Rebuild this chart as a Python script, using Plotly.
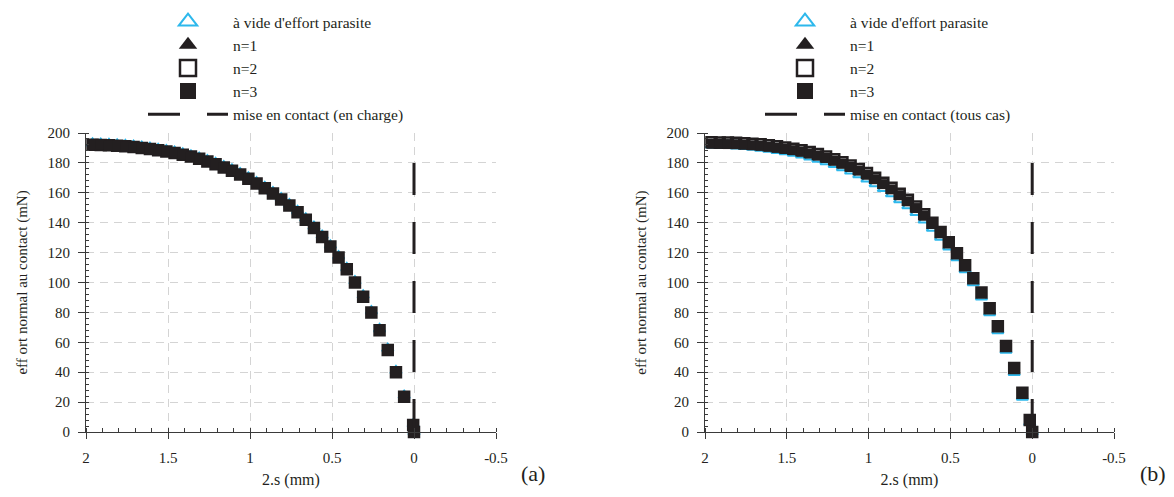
import plotly.graph_objects as go

# ---------------- data ----------------
X_A = [2.01, 1.96, 1.91, 1.86, 1.81, 1.76, 1.71, 1.66, 1.61, 1.56,
       1.51, 1.46, 1.41, 1.36, 1.31, 1.26, 1.21, 1.16, 1.11, 1.06,
       1.01, 0.96, 0.91, 0.86, 0.81, 0.76, 0.71, 0.66, 0.61, 0.56,
       0.51, 0.46, 0.41, 0.36, 0.31, 0.26, 0.21, 0.16, 0.11, 0.06,
       0.005, 0.0]
X_B = [2.01, 1.96, 1.91, 1.86, 1.81, 1.76, 1.71, 1.66, 1.61, 1.56,
       1.51, 1.46, 1.41, 1.36, 1.31, 1.26, 1.21, 1.16, 1.11, 1.06,
       1.01, 0.96, 0.91, 0.86, 0.81, 0.76, 0.71, 0.66, 0.61, 0.56,
       0.51, 0.46, 0.41, 0.36, 0.31, 0.26, 0.21, 0.16, 0.11, 0.06,
       0.015, 0.0]

# panel (a)
VIDE_A = [193.2, 193.1, 192.9, 192.7, 192.4, 192.0, 191.5, 190.9, 190.2, 189.4,
          188.5, 187.5, 186.4, 185.1, 183.6, 181.9, 180.0, 177.9, 175.6, 173.1,
          170.3, 167.2, 163.9, 160.4, 156.5, 152.4, 147.9, 142.9, 137.4, 131.4,
          124.9, 117.7, 109.7, 100.9, 91.4, 80.9, 68.9, 55.7, 40.9, 24.4,
          5.2, 0.0]
N1_A = [192.3, 192.2, 192.0, 191.8, 191.5, 191.1, 190.6, 190.0, 189.3, 188.5,
        187.6, 186.6, 185.5, 184.2, 182.7, 181.0, 179.1, 177.0, 174.7, 172.2,
        169.4, 166.3, 163.0, 159.5, 155.6, 151.5, 147.0, 142.0, 136.5, 130.5,
        124.0, 116.8, 108.8, 100.0, 90.5, 80.0, 68.0, 54.8, 40.0, 23.5,
        4.7, 0.0]
N2_A = [192.3, 192.2, 192.0, 191.8, 191.5, 191.1, 190.6, 190.0, 189.3, 188.5,
        187.6, 186.6, 185.5, 184.2, 182.7, 181.0, 179.1, 177.0, 174.7, 172.2,
        169.4, 166.3, 163.0, 159.5, 155.6, 151.5, 147.0, 142.0, 136.5, 130.5,
        124.0, 116.8, 108.8, 100.0, 90.5, 80.0, 68.0, 54.8, 40.0, 23.5,
        4.7, 0.0]
N3_A = [192.3, 192.2, 192.0, 191.8, 191.5, 191.1, 190.6, 190.0, 189.3, 188.5,
        187.6, 186.6, 185.5, 184.2, 182.7, 181.0, 179.1, 177.0, 174.7, 172.2,
        169.4, 166.3, 163.0, 159.5, 155.6, 151.5, 147.0, 142.0, 136.5, 130.5,
        124.0, 116.8, 108.8, 100.0, 90.5, 80.0, 68.0, 54.8, 40.0, 23.5,
        4.7, 0.0]

# panel (b)
VIDE_B = [192.0, 191.9, 191.8, 191.6, 191.3, 190.9, 190.4, 189.8, 189.1, 188.3,
          187.4, 186.4, 185.3, 184.0, 182.5, 180.8, 178.9, 176.8, 174.5, 172.0,
          169.2, 166.1, 162.8, 159.3, 155.4, 151.3, 146.8, 141.8, 136.3, 130.3,
          123.8, 116.6, 108.6, 99.8, 90.3, 79.8, 67.8, 54.6, 39.8, 23.3,
          6.5, 0.0]
N1_B = [192.5, 192.5, 192.3, 192.2, 192.0, 191.6, 191.2, 190.7, 190.0, 189.3,
        188.4, 187.5, 186.5, 185.2, 183.8, 182.1, 180.3, 178.2, 176.0, 173.5,
        170.8, 167.7, 164.4, 160.9, 157.0, 152.9, 148.4, 143.4, 137.9, 131.9,
        125.4, 118.2, 110.2, 101.4, 91.9, 81.4, 69.4, 56.2, 41.4, 24.9,
        7.2, 0.0]
N2_B = [193.8, 193.8, 193.7, 193.6, 193.5, 193.2, 192.8, 192.4, 191.8, 191.1,
        190.3, 189.5, 188.5, 187.3, 185.9, 184.3, 182.5, 180.5, 178.3, 175.9,
        173.2, 170.1, 166.8, 163.3, 159.4, 155.3, 150.8, 145.6, 140.0, 133.8,
        127.0, 119.6, 111.6, 102.8, 93.3, 82.8, 70.8, 57.6, 42.8, 26.3,
        8.0, 0.0]
N3_B = [192.8, 192.8, 192.7, 192.6, 192.5, 192.2, 191.8, 191.4, 190.8, 190.1,
        189.3, 188.5, 187.5, 186.3, 184.9, 183.3, 181.5, 179.5, 177.3, 174.9,
        172.2, 169.1, 165.8, 162.3, 158.4, 154.3, 149.8, 144.8, 139.3, 133.3,
        126.8, 119.6, 111.6, 102.8, 93.3, 82.8, 70.8, 57.6, 42.8, 26.3,
        8.0, 0.0]

# contact line (x = 0)
CONTACT_X = [0.0, 0.0]
CONTACT_Y = [180.0, 0.0]

NAMES = ["à vide d'effort parasite", "n=1", "n=2", "n=3"]
CONTACT_NAME_A = "mise en contact (en charge)"
CONTACT_NAME_B = "mise en contact (tous cas)"

X_TICKVALS = [2, 1.5, 1, 0.5, 0, -0.5]
X_TICKTEXT = ["2", "1.5", "1", "0.5", "0", "-0.5"]
Y_TICKVALS = [0, 20, 40, 60, 80, 100, 120, 140, 160, 180, 200]

X_TITLE = "2.s (mm)"
Y_TITLE = "eff ort normal au contact (mN)"
PANEL_LABELS = ["(a)", "(b)"]

# ---------------- style ----------------
WIN_W, WIN_H = 1174, 497
OFF = 8                      # default page margin of the html body
W, H = WIN_W - 2 * OFF, WIN_H - 2 * OFF
BLACK = "#231F20"
CYAN = "#2DB8EC"
GRID = "#D4D4D4"
AXIS = "#3A3A3A"
FONT = "'Liberation Serif', 'Times New Roman', Times, serif"

SYMBOLS = ["triangle-up-open", "triangle-up", "square-open", "square"]
COLORS = [CYAN, BLACK, BLACK, BLACK]
LINEW = [2, 0, 2.5, 0]


def px(x):
    return (x - OFF) / W


def py(y):
    return (H - (y - OFF)) / H


fig = go.Figure()


def add_panel(xs, series, contact_name, xa, ya, legend):
    for i, ys in enumerate(series):
        mk = dict(symbol=SYMBOLS[i], color=COLORS[i],
                  line=dict(width=LINEW[i], color=COLORS[i]))
        fig.add_trace(go.Scatter(x=xs, y=ys, mode="markers", name=NAMES[i],
                                 xaxis=xa, yaxis=ya, showlegend=False, cliponaxis=False,
                                 legendgroup=legend + str(i),
                                 marker=dict(size=10, **mk)))
        fig.add_trace(go.Scatter(x=[None], y=[None], mode="markers", name=NAMES[i],
                                 xaxis=xa, yaxis=ya, legend=legend,
                                 legendgroup=legend + str(i),
                                 marker=dict(size=16, **mk)))
    fig.add_trace(go.Scatter(x=CONTACT_X, y=CONTACT_Y, mode="lines", name=contact_name,
                             legendgroup=legend + "4", xaxis=xa, yaxis=ya, legend=legend,
                             line=dict(color=BLACK, width=3, dash="32px,27px")))


add_panel(X_A, (VIDE_A, N1_A, N2_A, N3_A), CONTACT_NAME_A, "x", "y", "legend")
add_panel(X_B, (VIDE_B, N1_B, N2_B, N3_B), CONTACT_NAME_B, "x2", "y2", "legend2")

ydom = [py(432), py(133)]
xdom_a = [px(86), px(496)]
xdom_b = [px(705), px(1114)]

tickfont = dict(family=FONT, size=15, color=BLACK)


def xaxis(dom, anchor):
    return dict(domain=dom, anchor=anchor, range=[2, -0.5], autorange=False,
                automargin=False,
                tickmode="array", tickvals=X_TICKVALS, ticktext=X_TICKTEXT,
                ticks="outside", ticklen=6, tickcolor=AXIS, tickwidth=1,
                ticklabelstandoff=6,
                minor=dict(dtick=0.1, tick0=0, ticks="inside", ticklen=4,
                           tickcolor=AXIS, showgrid=False),
                showline=True, linecolor=AXIS, linewidth=1,
                showgrid=True, gridcolor=GRID, griddash="8px,6px", gridwidth=1,
                zeroline=False, tickfont=tickfont,
                title=dict(text=X_TITLE, font=dict(family=FONT, size=16, color=BLACK),
                           standoff=12))


def yaxis(anchor):
    return dict(domain=ydom, anchor=anchor, range=[0, 200], autorange=False,
                automargin=False,
                tickmode="array", tickvals=Y_TICKVALS,
                ticks="outside", ticklen=7, tickcolor=AXIS, tickwidth=1,
                ticklabelstandoff=5,
                minor=dict(dtick=4, tick0=0, ticks="inside", ticklen=3,
                           tickcolor=AXIS, showgrid=False),
                showline=True, linecolor=AXIS, linewidth=1,
                showgrid=True, gridcolor=GRID, griddash="8px,6px", gridwidth=1,
                zeroline=False, tickfont=tickfont,
                title=dict(text=Y_TITLE, font=dict(family=FONT, size=15, color=BLACK),
                           standoff=16))


legend_common = dict(xanchor="left", yanchor="top", y=py(5), itemwidth=80,
                     tracegroupgap=0, traceorder="grouped",
                     bgcolor="rgba(0,0,0,0)", borderwidth=0,
                     font=dict(family=FONT, size=15.5, color=BLACK))

fig.update_layout(
    width=W, height=H,
    margin=dict(l=0, r=0, t=0, b=0, autoexpand=False),
    paper_bgcolor="white", plot_bgcolor="white",
    showlegend=True,
    font=dict(family=FONT, color=BLACK),
    xaxis=xaxis(xdom_a, "y"), yaxis=yaxis("x"),
    xaxis2=xaxis(xdom_b, "y2"), yaxis2=yaxis("x2"),
    legend=dict(x=px(143), **legend_common),
    legend2=dict(x=px(760), **legend_common),
    annotations=[
        dict(text=PANEL_LABELS[0], x=px(533), y=py(473), xref="paper", yref="paper",
             xanchor="center", yanchor="middle",
             showarrow=False, font=dict(family=FONT, size=22, color=BLACK)),
        dict(text=PANEL_LABELS[1], x=px(1153), y=py(473), xref="paper", yref="paper",
             xanchor="center", yanchor="middle",
             showarrow=False, font=dict(family=FONT, size=22, color=BLACK)),
    ],
)

fig.write_html("out.html")
